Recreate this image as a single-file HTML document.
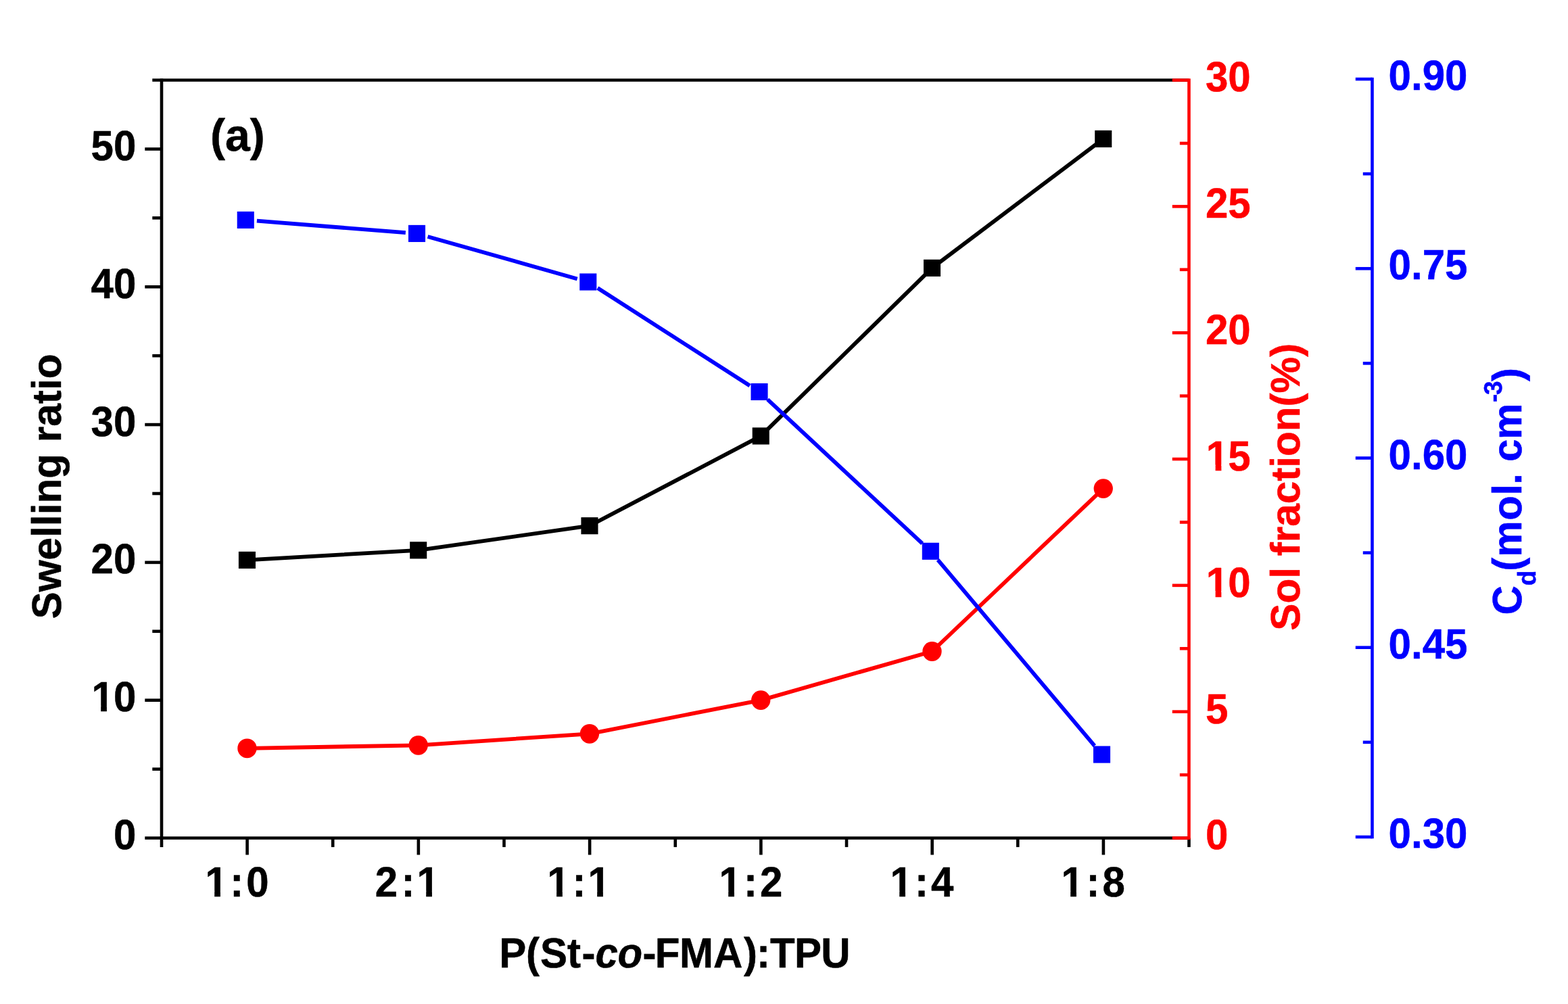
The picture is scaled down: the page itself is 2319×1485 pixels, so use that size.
<!DOCTYPE html>
<html lang="en"><head><meta charset="utf-8"><title>Swelling ratio, sol fraction and crosslink density vs P(St-co-FMA):TPU</title>
<style>html,body{margin:0;padding:0;background:#fff;}body{width:2319px;height:1485px;overflow:hidden;}svg{display:block;}text{font-family:'Liberation Sans', Arial, Helvetica, sans-serif;font-weight:700;font-kerning:none;font-variant-ligatures:none;white-space:pre;stroke-width:0.5px;stroke-linejoin:round;}#labels text,#xlabels text,#titles text{stroke:#000;}text[fill="#f00"]{stroke:#f00 !important;}text[fill="#00f"]{stroke:#00f !important;}</style></head><body>
<svg xmlns="http://www.w3.org/2000/svg" width="2319" height="1485" viewBox="0 0 2319 1485" shape-rendering="geometricPrecision" text-rendering="geometricPrecision">
<rect x="0" y="0" width="2319" height="1485" fill="#fff"/>
<g id="axes-black">
<line x1="239" y1="116.25" x2="239" y2="1252.9" stroke="#000" stroke-width="4.6" stroke-linecap="butt"/>
<line x1="225.3" y1="118.55" x2="1758.45" y2="118.55" stroke="#000" stroke-width="4.6" stroke-linecap="butt"/>
<line x1="214.3" y1="1239.5" x2="1758.45" y2="1239.5" stroke="#000" stroke-width="4.6" stroke-linecap="butt"/>
<line x1="1758.45" y1="1239.5" x2="1758.45" y2="1252.9" stroke="#000" stroke-width="4.6" stroke-linecap="butt"/>
<line x1="225.3" y1="1137.6" x2="239" y2="1137.6" stroke="#000" stroke-width="4.6" stroke-linecap="butt"/>
<line x1="214.3" y1="1035.69" x2="239" y2="1035.69" stroke="#000" stroke-width="4.6" stroke-linecap="butt"/>
<line x1="225.3" y1="933.79" x2="239" y2="933.79" stroke="#000" stroke-width="4.6" stroke-linecap="butt"/>
<line x1="214.3" y1="831.88" x2="239" y2="831.88" stroke="#000" stroke-width="4.6" stroke-linecap="butt"/>
<line x1="225.3" y1="729.98" x2="239" y2="729.98" stroke="#000" stroke-width="4.6" stroke-linecap="butt"/>
<line x1="214.3" y1="628.07" x2="239" y2="628.07" stroke="#000" stroke-width="4.6" stroke-linecap="butt"/>
<line x1="225.3" y1="526.17" x2="239" y2="526.17" stroke="#000" stroke-width="4.6" stroke-linecap="butt"/>
<line x1="214.3" y1="424.26" x2="239" y2="424.26" stroke="#000" stroke-width="4.6" stroke-linecap="butt"/>
<line x1="225.3" y1="322.36" x2="239" y2="322.36" stroke="#000" stroke-width="4.6" stroke-linecap="butt"/>
<line x1="214.3" y1="220.45" x2="239" y2="220.45" stroke="#000" stroke-width="4.6" stroke-linecap="butt"/>
<line x1="365.6" y1="1239.5" x2="365.6" y2="1264.4" stroke="#000" stroke-width="4.6" stroke-linecap="butt"/>
<line x1="492.23" y1="1239.5" x2="492.23" y2="1252.9" stroke="#000" stroke-width="4.6" stroke-linecap="butt"/>
<line x1="618.86" y1="1239.5" x2="618.86" y2="1264.4" stroke="#000" stroke-width="4.6" stroke-linecap="butt"/>
<line x1="745.49" y1="1239.5" x2="745.49" y2="1252.9" stroke="#000" stroke-width="4.6" stroke-linecap="butt"/>
<line x1="872.12" y1="1239.5" x2="872.12" y2="1264.4" stroke="#000" stroke-width="4.6" stroke-linecap="butt"/>
<line x1="998.75" y1="1239.5" x2="998.75" y2="1252.9" stroke="#000" stroke-width="4.6" stroke-linecap="butt"/>
<line x1="1125.38" y1="1239.5" x2="1125.38" y2="1264.4" stroke="#000" stroke-width="4.6" stroke-linecap="butt"/>
<line x1="1252.01" y1="1239.5" x2="1252.01" y2="1252.9" stroke="#000" stroke-width="4.6" stroke-linecap="butt"/>
<line x1="1378.64" y1="1239.5" x2="1378.64" y2="1264.4" stroke="#000" stroke-width="4.6" stroke-linecap="butt"/>
<line x1="1505.27" y1="1239.5" x2="1505.27" y2="1252.9" stroke="#000" stroke-width="4.6" stroke-linecap="butt"/>
<line x1="1631.9" y1="1239.5" x2="1631.9" y2="1264.4" stroke="#000" stroke-width="4.6" stroke-linecap="butt"/>
</g>
<g id="series-swelling">
<polyline fill="none" stroke="#000" stroke-width="5.8" stroke-linejoin="round" points="365.45,828.4 618.71,813.85 871.97,777.7 1125.23,644.9 1378.49,396.4 1631.75,205.4"/>
<rect x="352.9" y="815.85" width="25.1" height="25.1" fill="#000"/>
<rect x="606.16" y="801.3" width="25.1" height="25.1" fill="#000"/>
<rect x="859.42" y="765.15" width="25.1" height="25.1" fill="#000"/>
<rect x="1112.68" y="632.35" width="25.1" height="25.1" fill="#000"/>
<rect x="1365.94" y="383.85" width="25.1" height="25.1" fill="#000"/>
<rect x="1619.2" y="192.85" width="25.1" height="25.1" fill="#000"/>
</g>
<g id="axes-red">
<line x1="1758.45" y1="116.25" x2="1758.45" y2="1241.8" stroke="#f00" stroke-width="4.6" stroke-linecap="butt"/>
<line x1="1733.75" y1="1239.5" x2="1758.45" y2="1239.5" stroke="#f00" stroke-width="4.6" stroke-linecap="butt"/>
<line x1="1744.85" y1="1146.09" x2="1758.45" y2="1146.09" stroke="#f00" stroke-width="4.6" stroke-linecap="butt"/>
<line x1="1733.75" y1="1052.67" x2="1758.45" y2="1052.67" stroke="#f00" stroke-width="4.6" stroke-linecap="butt"/>
<line x1="1744.85" y1="959.26" x2="1758.45" y2="959.26" stroke="#f00" stroke-width="4.6" stroke-linecap="butt"/>
<line x1="1733.75" y1="865.85" x2="1758.45" y2="865.85" stroke="#f00" stroke-width="4.6" stroke-linecap="butt"/>
<line x1="1744.85" y1="772.44" x2="1758.45" y2="772.44" stroke="#f00" stroke-width="4.6" stroke-linecap="butt"/>
<line x1="1733.75" y1="679.02" x2="1758.45" y2="679.02" stroke="#f00" stroke-width="4.6" stroke-linecap="butt"/>
<line x1="1744.85" y1="585.61" x2="1758.45" y2="585.61" stroke="#f00" stroke-width="4.6" stroke-linecap="butt"/>
<line x1="1733.75" y1="492.2" x2="1758.45" y2="492.2" stroke="#f00" stroke-width="4.6" stroke-linecap="butt"/>
<line x1="1744.85" y1="398.79" x2="1758.45" y2="398.79" stroke="#f00" stroke-width="4.6" stroke-linecap="butt"/>
<line x1="1733.75" y1="305.38" x2="1758.45" y2="305.38" stroke="#f00" stroke-width="4.6" stroke-linecap="butt"/>
<line x1="1744.85" y1="211.96" x2="1758.45" y2="211.96" stroke="#f00" stroke-width="4.6" stroke-linecap="butt"/>
<line x1="1733.75" y1="118.55" x2="1758.45" y2="118.55" stroke="#f00" stroke-width="4.6" stroke-linecap="butt"/>
</g>
<g id="series-sol">
<polyline fill="none" stroke="#f00" stroke-width="5.8" stroke-linejoin="round" points="365.45,1106.8 618.71,1102.3 871.97,1085.3 1125.23,1035.6 1378.49,963.5 1631.75,722.6"/>
<ellipse cx="365.45" cy="1106.8" rx="14.15" ry="14.4" fill="#f00"/>
<ellipse cx="618.71" cy="1102.3" rx="14.15" ry="14.4" fill="#f00"/>
<ellipse cx="871.97" cy="1085.3" rx="14.15" ry="14.4" fill="#f00"/>
<ellipse cx="1125.23" cy="1035.6" rx="14.15" ry="14.4" fill="#f00"/>
<ellipse cx="1378.49" cy="963.5" rx="14.15" ry="14.4" fill="#f00"/>
<ellipse cx="1631.75" cy="722.6" rx="14.15" ry="14.4" fill="#f00"/>
</g>
<g id="axes-blue">
<line x1="2029.45" y1="114.7" x2="2029.45" y2="1240.25" stroke="#00f" stroke-width="4.6" stroke-linecap="butt"/>
<line x1="2004.75" y1="1237.95" x2="2029.45" y2="1237.95" stroke="#00f" stroke-width="4.6" stroke-linecap="butt"/>
<line x1="2015.75" y1="1097.83" x2="2029.45" y2="1097.83" stroke="#00f" stroke-width="4.6" stroke-linecap="butt"/>
<line x1="2004.75" y1="957.71" x2="2029.45" y2="957.71" stroke="#00f" stroke-width="4.6" stroke-linecap="butt"/>
<line x1="2015.75" y1="817.59" x2="2029.45" y2="817.59" stroke="#00f" stroke-width="4.6" stroke-linecap="butt"/>
<line x1="2004.75" y1="677.48" x2="2029.45" y2="677.48" stroke="#00f" stroke-width="4.6" stroke-linecap="butt"/>
<line x1="2015.75" y1="537.36" x2="2029.45" y2="537.36" stroke="#00f" stroke-width="4.6" stroke-linecap="butt"/>
<line x1="2004.75" y1="397.24" x2="2029.45" y2="397.24" stroke="#00f" stroke-width="4.6" stroke-linecap="butt"/>
<line x1="2015.75" y1="257.12" x2="2029.45" y2="257.12" stroke="#00f" stroke-width="4.6" stroke-linecap="butt"/>
<line x1="2004.75" y1="117" x2="2029.45" y2="117" stroke="#00f" stroke-width="4.6" stroke-linecap="butt"/>
</g>
<g id="series-cd">
<line x1="379.9" y1="326.71" x2="599.86" y2="344.09" stroke="#00f" stroke-width="5.8" stroke-linecap="butt"/>
<line x1="632.58" y1="349.94" x2="853.7" y2="412.46" stroke="#00f" stroke-width="5.8" stroke-linecap="butt"/>
<line x1="883.83" y1="426.02" x2="1108.97" y2="570.48" stroke="#00f" stroke-width="5.8" stroke-linecap="butt"/>
<line x1="1135.25" y1="590.88" x2="1364.07" y2="803.92" stroke="#00f" stroke-width="5.8" stroke-linecap="butt"/>
<line x1="1387.05" y1="828.07" x2="1618.79" y2="1103.23" stroke="#00f" stroke-width="5.8" stroke-linecap="butt"/>
<rect x="350.7" y="312.85" width="25.1" height="25.1" fill="#00f"/>
<rect x="603.96" y="332.85" width="25.1" height="25.1" fill="#00f"/>
<rect x="857.22" y="404.45" width="25.1" height="25.1" fill="#00f"/>
<rect x="1110.48" y="566.95" width="25.1" height="25.1" fill="#00f"/>
<rect x="1363.74" y="802.75" width="25.1" height="25.1" fill="#00f"/>
<rect x="1617" y="1103.45" width="25.1" height="25.1" fill="#00f"/>
</g>
<g id="labels">
<text transform="translate(0 1256.05) scale(1 1.0420)" font-size="60" fill="#000" x="167.91" y="0">0</text>
<clipPath id="c1" clipPathUnits="userSpaceOnUse"><path clip-rule="evenodd" d="M115.44 974.24H227.91V1082.24H115.44ZM137.42 1043.86H149.19V1054.24H137.42ZM157.93 1043.86H168.94V1054.24H157.93Z"/></clipPath>
<g clip-path="url(#c1)"><text transform="translate(0 1052.24) scale(1 1.0420)" font-size="60" fill="#000" x="135.44 167.91" y="0">10</text></g>
<text transform="translate(0 848.43) scale(1 1.0420)" font-size="60" fill="#000" x="134.54 167.91" y="0">20</text>
<text transform="translate(0 644.62) scale(1 1.0420)" font-size="60" fill="#000" x="134.54 167.91" y="0">30</text>
<text transform="translate(0 440.81) scale(1 1.0420)" font-size="60" fill="#000" x="134.54 167.91" y="0">40</text>
<text transform="translate(0 237) scale(1 1.0420)" font-size="60" fill="#000" x="134.54 167.91" y="0">50</text>
<text transform="translate(0 1256.4) scale(1 1.0420)" font-size="60" fill="#f00" x="1782.95" y="0">0</text>
<text transform="translate(0 1069.58) scale(1 1.0420)" font-size="60" fill="#f00" x="1782.95" y="0">5</text>
<clipPath id="c2" clipPathUnits="userSpaceOnUse"><path clip-rule="evenodd" d="M1763.85 804.75H1876.32V912.75H1763.85ZM1785.83 874.37H1797.6V884.75H1785.83ZM1806.34 874.37H1817.35V884.75H1806.34Z"/></clipPath>
<g clip-path="url(#c2)"><text transform="translate(0 882.75) scale(1 1.0420)" font-size="60" fill="#f00" x="1783.85 1816.32" y="0">10</text></g>
<clipPath id="c3" clipPathUnits="userSpaceOnUse"><path clip-rule="evenodd" d="M1763.85 617.92H1876.32V725.92H1763.85ZM1785.83 687.54H1797.6V697.92H1785.83ZM1806.34 687.54H1817.35V697.92H1806.34Z"/></clipPath>
<g clip-path="url(#c3)"><text transform="translate(0 695.92) scale(1 1.0420)" font-size="60" fill="#f00" x="1783.85 1816.32" y="0">15</text></g>
<text transform="translate(0 509.1) scale(1 1.0420)" font-size="60" fill="#f00" x="1782.95 1816.32" y="0">20</text>
<text transform="translate(0 322.27) scale(1 1.0420)" font-size="60" fill="#f00" x="1782.95 1816.32" y="0">25</text>
<text transform="translate(0 135.45) scale(1 1.0420)" font-size="60" fill="#f00" x="1782.95 1816.32" y="0">30</text>
<text transform="translate(0 1254) scale(1 1.0420)" font-size="60" fill="#00f" x="2053.6 2086.97 2103.64 2137.01" y="0">0.30</text>
<text transform="translate(0 973.76) scale(1 1.0420)" font-size="60" fill="#00f" x="2053.6 2086.97 2103.64 2137.01" y="0">0.45</text>
<text transform="translate(0 693.52) scale(1 1.0420)" font-size="60" fill="#00f" x="2053.6 2086.97 2103.64 2137.01" y="0">0.60</text>
<text transform="translate(0 413.29) scale(1 1.0420)" font-size="60" fill="#00f" x="2053.6 2086.97 2103.64 2137.01" y="0">0.75</text>
<text transform="translate(0 133.05) scale(1 1.0420)" font-size="60" fill="#00f" x="2053.6 2086.97 2103.64 2137.01" y="0">0.90</text>
</g>
<g id="xlabels">
<clipPath id="c4" clipPathUnits="userSpaceOnUse"><path clip-rule="evenodd" d="M283.46 1247.9H424.23V1355.9H283.46ZM305.44 1317.52H317.22V1327.9H305.44ZM325.95 1317.52H336.96V1327.9H325.95Z"/></clipPath>
<g clip-path="url(#c4)"><text transform="translate(0 1325.9) scale(1 1.0420)" font-size="60" fill="#000" x="303.46 340.26 364.23" y="0">1:0</text></g>
<clipPath id="c5" clipPathUnits="userSpaceOnUse"><path clip-rule="evenodd" d="M534.63 1247.9H676.46V1355.9H534.63ZM618.44 1317.52H630.22V1327.9H618.44ZM638.95 1317.52H649.96V1327.9H638.95Z"/></clipPath>
<g clip-path="url(#c5)"><text transform="translate(0 1325.9) scale(1 1.0420)" font-size="60" fill="#000" x="554.63 593.61 616.46" y="0">2:1</text></g>
<clipPath id="c6" clipPathUnits="userSpaceOnUse"><path clip-rule="evenodd" d="M789.36 1247.9H929.41V1355.9H789.36ZM811.34 1317.52H823.12V1327.9H811.34ZM831.85 1317.52H842.86V1327.9H831.85ZM871.39 1317.52H883.17V1327.9H871.39ZM891.9 1317.52H902.91V1327.9H891.9Z"/></clipPath>
<g clip-path="url(#c6)"><text transform="translate(0 1325.9) scale(1 1.0420)" font-size="60" fill="#000" x="809.36 846.61 869.41" y="0">1:1</text></g>
<clipPath id="c7" clipPathUnits="userSpaceOnUse"><path clip-rule="evenodd" d="M1043.46 1247.9H1184.03V1355.9H1043.46ZM1065.44 1317.52H1077.22V1327.9H1065.44ZM1085.95 1317.52H1096.96V1327.9H1085.95Z"/></clipPath>
<g clip-path="url(#c7)"><text transform="translate(0 1325.9) scale(1 1.0420)" font-size="60" fill="#000" x="1063.46 1100.01 1124.03" y="0">1:2</text></g>
<clipPath id="c8" clipPathUnits="userSpaceOnUse"><path clip-rule="evenodd" d="M1296.46 1247.9H1436.9V1355.9H1296.46ZM1318.44 1317.52H1330.22V1327.9H1318.44ZM1338.95 1317.52H1349.96V1327.9H1338.95Z"/></clipPath>
<g clip-path="url(#c8)"><text transform="translate(0 1325.9) scale(1 1.0420)" font-size="60" fill="#000" x="1316.46 1353.01 1376.9" y="0">1:4</text></g>
<clipPath id="c9" clipPathUnits="userSpaceOnUse"><path clip-rule="evenodd" d="M1549.46 1247.9H1690.45V1355.9H1549.46ZM1571.44 1317.52H1583.22V1327.9H1571.44ZM1591.95 1317.52H1602.96V1327.9H1591.95Z"/></clipPath>
<g clip-path="url(#c9)"><text transform="translate(0 1325.9) scale(1 1.0420)" font-size="60" fill="#000" x="1569.46 1606.44 1630.45" y="0">1:8</text></g>
</g>
<g id="titles">
<text transform="translate(310.91 223.1) scale(1.0022 1.0150)" font-size="66" fill="#000">(a)</text>
<text transform="translate(0 1430.8) scale(1 1.0400)" font-size="60" fill="#000" x="738.19 777.92 799.02 839.06 860.49 880.48 913.57 950.59 968.82 1005.06 1054.93 1100.05 1118.96 1139.11 1175.06 1214.13" y="0">P(St-<tspan font-style="italic">co</tspan>-FMA):TPU</text>
<text transform="translate(90.1 915.54) rotate(-90) scale(1.0050 1.0150)" font-size="60" fill="#000">Swelling ratio</text>
<text transform="translate(1922.1 932.74) rotate(-90) scale(1.0038 1.0150)" font-size="60" fill="#f00">Sol fraction(%)</text>
<text transform="translate(2250 907.1) rotate(-90) scale(1 1.0150)" font-size="60" fill="#00f" x="-2.46 40.91 62.29 83.36 137.3 174.34 190.29 209.5 224.37 257.16 312.06 323.23 343.11" y="0 20.59 0 0 0 0 0 0 0 0 -28.37 -28.37 0">C<tspan font-size="37">d</tspan>(mol. cm<tspan font-size="37">-3</tspan>)</text>
</g>
</svg></body></html>
